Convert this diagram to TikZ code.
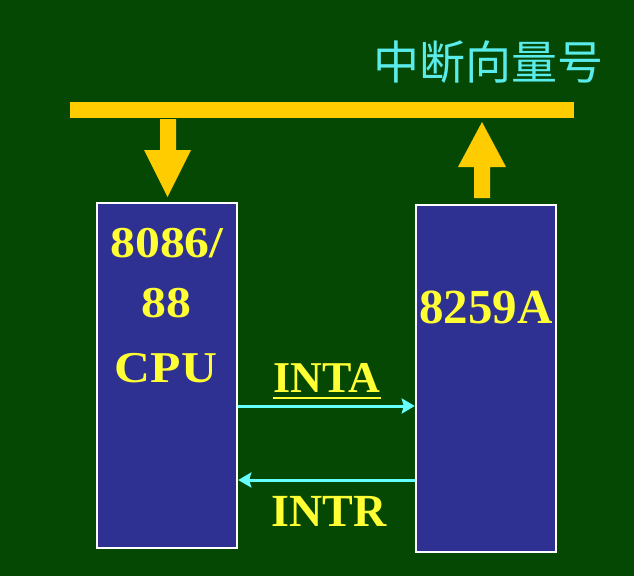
\documentclass[tikz,border=0pt]{standalone}
\usepackage{fontspec}
\setmainfont{Liberation Serif}
\newfontfamily\cjk{Noto Sans CJK SC}
\newfontfamily\widefont[FakeStretch=1.13]{Liberation Serif}
\usetikzlibrary{arrows.meta}
\definecolor{bggreen}{RGB}{4,72,4}
\definecolor{busyellow}{RGB}{255,204,0}
\definecolor{txtyellow}{RGB}{255,255,51}
\definecolor{boxblue}{RGB}{46,49,146}
\definecolor{sigcyan}{RGB}{102,255,255}
\definecolor{titlecyan}{RGB}{90,235,235}
\tikzset{
  chip/.style={draw=white, line width=2.5pt, fill=boxblue, inner sep=0pt},
  lbl/.style={text=txtyellow, inner sep=0pt, anchor=base, font=\bfseries\fontsize{46}{50}\selectfont},
  cpulbl/.style={text=txtyellow, inner sep=0pt, anchor=base, font=\widefont\bfseries\fontsize{44}{48}\selectfont},
  sig/.style={draw=sigcyan, line width=3pt, -{Stealth[length=13pt,width=15pt,inset=2pt]}},
  blockarrow/.style={fill=busyellow, draw=none}
}
\begin{document}
\begin{tikzpicture}[x=1pt,y=-1pt]
\fill[bggreen] (0,0) rectangle (634,576);
\useasboundingbox (0,0) rectangle (634,576);
% title
\node[text=titlecyan, inner sep=0pt, font=\cjk\fontsize{46}{50}\selectfont] (title) at (488.5,62) {中断向量号};
% bus bar
\node[fill=busyellow, inner sep=0pt, minimum width=504pt, minimum height=16pt] (bus) at (322,110) {};
% boxes
\node[chip, minimum width=140pt, minimum height=345pt] (cpu) at (167,375.5) {};
\node[chip, minimum width=140pt, minimum height=347pt] (pic) at (486,378.5) {};
% block arrows
\fill[blockarrow] (160,119) -- (176,119) -- (176,150) -- (191,150) -- (167.5,197) -- (144,150) -- (160,150) -- cycle;
\fill[blockarrow] (474,198) -- (490,198) -- (490,167) -- (506,167) -- (482,122) -- (458,167) -- (474,167) -- cycle;
% texts in boxes
\node[cpulbl] (t1) at (167,257) {8086/};
\node[cpulbl] (t2) at (166,317) {88};
\node[cpulbl] (t3) at (166,382) {CPU};
\node[lbl, font=\bfseries\fontsize{49}{52}\selectfont] (t4) at (486,323) {8259A};
% signals
\node[lbl, font=\bfseries\fontsize{44}{48}\selectfont] (inta) at (327,392) {INTA};
\draw[txtyellow, line width=2.5pt] ([yshift=-6pt]inta.base west) -- ([yshift=-6pt]inta.base east);
\node[lbl, font=\bfseries\fontsize{46}{48}\selectfont] (intr) at (329,526) {INTR};
\draw[sig] (cpu.east |- 0,406) -- (pic.west |- 0,406);
\draw[sig] (pic.west |- 0,480) -- (cpu.east |- 0,480);
\end{tikzpicture}
\end{document}
